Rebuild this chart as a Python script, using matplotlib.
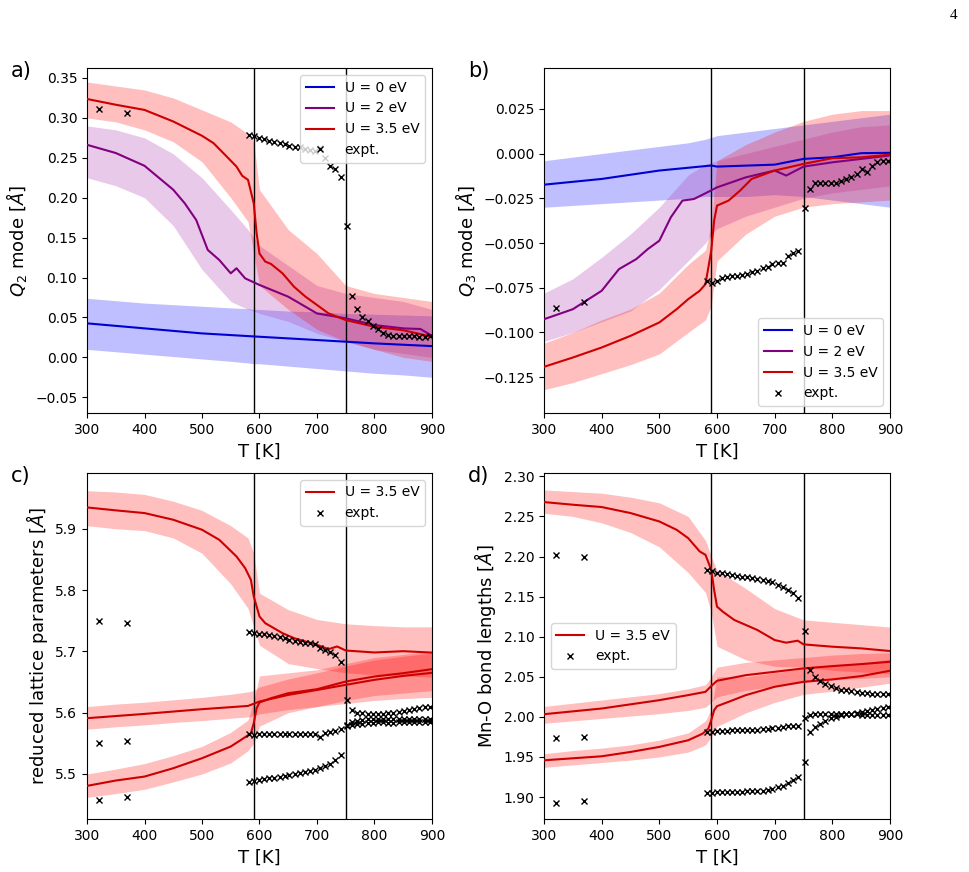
import numpy as np
import matplotlib
matplotlib.use("Agg")
import matplotlib.pyplot as plt

# ---- experimental points (shared temperature grid) ----
expt_T = [320, 370,
          582, 591, 600, 608, 617, 626, 635, 644, 652, 661, 670, 679, 688, 696, 705, 714, 723, 732, 741,
          752, 761, 770, 779, 788, 797, 806, 815, 824, 833, 842, 851, 860, 869, 878, 887, 896]

a_expt = [0.311, 0.306,
          0.279, 0.277, 0.275, 0.273, 0.271, 0.270, 0.268, 0.267, 0.265, 0.264, 0.263, 0.261, 0.260, 0.259,
          0.262, 0.250, 0.240, 0.236, 0.226,
          0.164, 0.077, 0.061, 0.050, 0.045, 0.039, 0.035, 0.031, 0.028, 0.027, 0.027, 0.027, 0.027, 0.027,
          0.026, 0.026, 0.027]
b_expt = [-0.0864, -0.0832,
          -0.0715, -0.0726, -0.0711, -0.0698, -0.0690, -0.0685, -0.0683, -0.0680, -0.0674, -0.0664, -0.0654,
          -0.0640, -0.0633, -0.0620, -0.0614, -0.0612, -0.0571, -0.0558, -0.0547,
          -0.0306, -0.0198, -0.0166, -0.0166, -0.0166, -0.0166, -0.0166, -0.0151, -0.0142, -0.0133, -0.0114,
          -0.0086, -0.0101, -0.0067, -0.0049, -0.0039, -0.0039]
c_expt_1 = [5.750, 5.747,
            5.731, 5.730, 5.729, 5.728, 5.727, 5.725, 5.723, 5.721, 5.719, 5.717, 5.715, 5.714, 5.713, 5.712,
            5.706, 5.702, 5.699, 5.694, 5.682,
            5.620, 5.604, 5.600, 5.599, 5.598, 5.598, 5.598, 5.598, 5.600, 5.600, 5.601, 5.602, 5.604, 5.606,
            5.607, 5.609, 5.610]
c_expt_2 = [5.551, 5.554,
            5.565, 5.564, 5.565, 5.565, 5.566, 5.566, 5.566, 5.566, 5.566, 5.566, 5.566, 5.566, 5.566, 5.566,
            5.561, 5.567, 5.569, 5.570, 5.574,
            5.580, 5.585, 5.587, 5.588, 5.589, 5.589, 5.590, 5.590, 5.589, 5.590, 5.590, 5.590, 5.590, 5.590,
            5.590, 5.590, 5.590]
c_expt_3 = [5.458, 5.463,
            5.487, 5.489, 5.491, 5.492, 5.493, 5.494, 5.495, 5.497, 5.498, 5.500, 5.501, 5.503, 5.505, 5.507,
            5.510, 5.513, 5.517, 5.522, 5.531,
            5.578, 5.580, 5.581, 5.582, 5.583, 5.583, 5.584, 5.584, 5.583, 5.583, 5.584, 5.584, 5.584, 5.584,
            5.584, 5.584, 5.584]
d_expt_1 = [2.2025, 2.200,
            2.183, 2.182, 2.180, 2.179, 2.178, 2.177, 2.176, 2.175, 2.174, 2.173, 2.172, 2.171, 2.170, 2.168,
            2.165, 2.162, 2.158, 2.155, 2.148,
            2.107, 2.058, 2.050, 2.045, 2.041, 2.038, 2.036, 2.034, 2.033, 2.032, 2.031, 2.030, 2.030, 2.029,
            2.029, 2.029, 2.029]
d_expt_2 = [1.973, 1.975,
            1.981, 1.981, 1.982, 1.982, 1.982, 1.983, 1.983, 1.983, 1.984, 1.984, 1.984, 1.985, 1.985, 1.986,
            1.986, 1.987, 1.988, 1.988, 1.989,
            1.999, 2.002, 2.003, 2.003, 2.003, 2.003, 2.003, 2.003, 2.003, 2.003, 2.003, 2.002, 2.002, 2.002,
            2.002, 2.002, 2.002]
d_expt_3 = [1.8925, 1.8946,
            1.905, 1.905, 1.906, 1.906, 1.906, 1.906, 1.906, 1.906, 1.907, 1.907, 1.907, 1.908, 1.909, 1.910,
            1.912, 1.914, 1.917, 1.921, 1.925,
            1.944, 1.981, 1.987, 1.991, 1.995, 1.998, 2.000, 2.002, 2.003, 2.004, 2.005, 2.006, 2.007, 2.008,
            2.010, 2.011, 2.012]

# ---- smoothed simulation curves ----
a_T_blue = [300, 400, 500, 600, 700, 800, 900]
a_blue = [0.0426, 0.0363, 0.030, 0.0258, 0.0217, 0.0175, 0.0141]
a_T_purple = [300, 350, 400, 450, 470, 490, 510, 530, 550, 560, 575, 600, 650, 700, 750, 800, 850, 880, 900]
a_purple = [0.2663, 0.256, 0.240, 0.210, 0.193, 0.172, 0.1346, 0.122, 0.1053, 0.1116, 0.099, 0.0907,
            0.076, 0.055, 0.0489, 0.0405, 0.0363, 0.0355, 0.027]
a_T_red = [300, 350, 400, 450, 500, 520, 540, 560, 570, 580, 590, 595, 600, 610, 620, 640, 660, 680,
           700, 720, 750, 800, 850, 900]
a_red = [0.3237, 0.3165, 0.310, 0.2955, 0.2776, 0.2684, 0.2538, 0.239, 0.2274, 0.2224, 0.193, 0.1555,
         0.130, 0.120, 0.117, 0.1053, 0.0885, 0.076, 0.0656, 0.0551, 0.0467, 0.0383, 0.034, 0.0258]

b_T_blue = [300, 400, 500, 590, 600, 700, 750, 800, 850, 900]
b_blue = [-0.0174, -0.0142, -0.0095, -0.0067, -0.0073, -0.0062, -0.0030, -0.0021, 0.0002, 0.0004]
b_T_purple = [300, 350, 400, 430, 460, 480, 500, 520, 540, 560, 580, 600, 650, 700, 720, 750, 800, 850, 900]
b_purple = [-0.0926, -0.087, -0.0767, -0.0646, -0.059, -0.0534, -0.0487, -0.0356, -0.0263, -0.0254,
            -0.0222, -0.0189, -0.0133, -0.0095, -0.0123, -0.0073, -0.0049, -0.003, -0.0011]
b_T_red = [300, 350, 400, 450, 500, 530, 550, 570, 580, 590, 595, 600, 620, 640, 660, 700, 750, 800, 850, 900]
b_red = [-0.1192, -0.114, -0.1084, -0.1019, -0.0944, -0.087, -0.0814, -0.0767, -0.073, -0.0543, -0.0375,
         -0.0291, -0.0263, -0.0207, -0.0142, -0.0095, -0.0058, -0.0026, -0.0021, -0.0006]

c_T_top = [300, 350, 400, 450, 500, 530, 560, 575, 585, 590, 600, 610, 620, 640, 660, 680, 700, 720,
           735, 750, 800, 850, 900]
c_top = [5.9348, 5.930, 5.9256, 5.9147, 5.8984, 5.882, 5.8548, 5.8358, 5.8168, 5.7896, 5.7569, 5.746,
         5.7406, 5.7297, 5.7216, 5.7161, 5.7107, 5.7036, 5.708, 5.7014, 5.6982, 5.7003, 5.698]
c_T_mid = [300, 400, 500, 580, 600, 650, 700, 750, 800, 850, 900]
c_mid = [5.591, 5.598, 5.6057, 5.611, 5.6182, 5.629, 5.637, 5.6454, 5.6536, 5.66, 5.665]
c_T_bot = [300, 350, 400, 450, 500, 550, 575, 585, 590, 595, 600, 620, 650, 700, 750, 800, 850, 900]
c_bot = [5.4806, 5.4893, 5.4958, 5.5094, 5.5257, 5.5448, 5.56, 5.5665, 5.5828, 5.6073, 5.6166, 5.6236,
         5.6318, 5.6383, 5.6508, 5.659, 5.6644, 5.671]

d_T_top = [300, 350, 400, 450, 500, 530, 550, 570, 580, 590, 595, 600, 610, 630, 650, 670, 700, 720,
           740, 750, 800, 850, 900]
d_top = [2.2679, 2.2646, 2.2617, 2.2542, 2.2437, 2.2333, 2.2229, 2.2063, 2.2021, 2.1833, 2.1583, 2.1375,
         2.1312, 2.1208, 2.1146, 2.1083, 2.0958, 2.0925, 2.095, 2.0904, 2.0875, 2.0854, 2.0821]
d_T_mid = [300, 400, 500, 550, 580, 590, 600, 650, 700, 750, 800, 850, 900]
d_mid = [2.0033, 2.0104, 2.0208, 2.0271, 2.0312, 2.0383, 2.045, 2.052, 2.0562, 2.0604, 2.0633, 2.0658, 2.0687]
d_T_bot = [300, 400, 450, 500, 550, 575, 585, 590, 595, 600, 620, 650, 700, 750, 800, 850, 900]
d_bot = [1.9458, 1.9508, 1.9562, 1.9625, 1.9708, 1.979, 1.9854, 1.9958, 2.0083, 2.0133, 2.0187, 2.0271,
         2.0375, 2.0437, 2.0467, 2.0508, 2.0575]

# ---- spread of the raw (unsmoothed) MD data, read as lower/upper envelopes ----
band_T = [300, 350, 400, 450, 500, 550, 580, 590, 600, 650, 700, 750, 800, 850, 900]

a_blue_lo = [0.010, 0.007, 0.004, 0.001, -0.002, -0.005, -0.007, -0.008, -0.008, -0.011, -0.014, -0.017, -0.020, -0.022, -0.025]
a_blue_hi = [0.074, 0.071, 0.068, 0.066, 0.064, 0.062, 0.061, 0.060, 0.060, 0.058, 0.057, 0.055, 0.054, 0.053, 0.052]
a_purple_lo = [0.225, 0.215, 0.200, 0.165, 0.110, 0.070, 0.060, 0.058, 0.055, 0.045, 0.030, 0.020, 0.010, 0.005, 0.000]
a_purple_hi = [0.290, 0.285, 0.275, 0.255, 0.225, 0.185, 0.160, 0.150, 0.140, 0.115, 0.090, 0.080, 0.075, 0.070, 0.060]
a_red_lo = [0.300, 0.295, 0.285, 0.270, 0.245, 0.200, 0.170, 0.130, 0.090, 0.060, 0.035, 0.020, 0.010, 0.000, -0.005]
a_red_hi = [0.345, 0.340, 0.335, 0.325, 0.310, 0.295, 0.280, 0.270, 0.210, 0.160, 0.130, 0.090, 0.080, 0.075, 0.070]

b_blue_lo = [-0.030, -0.029, -0.028, -0.027, -0.026, -0.025, -0.024, -0.024, -0.024, -0.024, -0.023, -0.024, -0.026, -0.028, -0.030]
b_blue_hi = [-0.004, -0.002, 0.000, 0.002, 0.004, 0.006, 0.008, 0.009, 0.010, 0.012, 0.014, 0.016, 0.018, 0.020, 0.022]
b_purple_lo = [-0.105, -0.100, -0.094, -0.088, -0.076, -0.060, -0.050, -0.045, -0.042, -0.035, -0.030, -0.025, -0.022, -0.020, -0.018]
b_purple_hi = [-0.078, -0.070, -0.058, -0.045, -0.030, -0.012, -0.006, -0.005, -0.004, 0.000, 0.004, 0.008, 0.012, 0.015, 0.016]
b_red_lo = [-0.132, -0.128, -0.123, -0.118, -0.112, -0.100, -0.093, -0.085, -0.060, -0.045, -0.035, -0.030, -0.028, -0.027, -0.026]
b_red_hi = [-0.106, -0.100, -0.093, -0.087, -0.078, -0.062, -0.054, -0.040, -0.004, 0.005, 0.012, 0.018, 0.022, 0.024, 0.024]

c_top_lo = [5.905, 5.900, 5.897, 5.885, 5.860, 5.810, 5.770, 5.740, 5.710, 5.680, 5.672, 5.665, 5.662, 5.660, 5.658]
c_top_hi = [5.962, 5.960, 5.956, 5.945, 5.930, 5.905, 5.885, 5.860, 5.795, 5.768, 5.752, 5.745, 5.742, 5.740, 5.740]
c_mid_lo = [5.573, 5.577, 5.580, 5.584, 5.587, 5.591, 5.593, 5.595, 5.598, 5.605, 5.610, 5.615, 5.620, 5.623, 5.625]
c_mid_hi = [5.610, 5.614, 5.617, 5.621, 5.625, 5.630, 5.634, 5.636, 5.642, 5.655, 5.665, 5.676, 5.686, 5.692, 5.697]
c_bot_lo = [5.462, 5.468, 5.475, 5.487, 5.500, 5.518, 5.538, 5.550, 5.578, 5.600, 5.610, 5.620, 5.628, 5.632, 5.636]
c_bot_hi = [5.500, 5.508, 5.517, 5.530, 5.545, 5.568, 5.588, 5.620, 5.660, 5.665, 5.670, 5.680, 5.690, 5.695, 5.700]

d_top_lo = [2.254, 2.250, 2.242, 2.230, 2.212, 2.180, 2.155, 2.130, 2.088, 2.071, 2.063, 2.062, 2.058, 2.056, 2.054]
d_top_hi = [2.283, 2.281, 2.279, 2.274, 2.267, 2.250, 2.220, 2.200, 2.183, 2.160, 2.135, 2.121, 2.118, 2.115, 2.112]
d_mid_lo = [1.992, 1.995, 1.998, 2.001, 2.004, 2.008, 2.012, 2.018, 2.025, 2.033, 2.038, 2.043, 2.046, 2.048, 2.050]
d_mid_hi = [2.013, 2.017, 2.021, 2.025, 2.029, 2.035, 2.040, 2.050, 2.062, 2.068, 2.071, 2.074, 2.077, 2.079, 2.080]
d_bot_lo = [1.937, 1.940, 1.943, 1.946, 1.950, 1.956, 1.965, 1.975, 1.988, 2.005, 2.018, 2.028, 2.032, 2.037, 2.042]
d_bot_hi = [1.954, 1.958, 1.961, 1.965, 1.971, 1.980, 1.995, 2.010, 2.050, 2.050, 2.055, 2.060, 2.064, 2.067, 2.072]

transitions = [590, 750]

c_blue, c_purple, c_red = '#0000d0', '#800080', '#cc0000'
f_blue, f_purple, f_red = 'blue', '#b040b0', 'red'

fig = plt.figure(figsize=(9.69, 8.72), dpi=100)
ax_a = fig.add_axes([0.0898, 0.5264, 0.3560, 0.3956])
ax_b = fig.add_axes([0.5614, 0.5264, 0.3571, 0.3956])
ax_c = fig.add_axes([0.0898, 0.0608, 0.3560, 0.3968])
ax_d = fig.add_axes([0.5614, 0.0608, 0.3571, 0.3968])


def band(ax, lo, hi, col, alpha):
    ax.fill_between(band_T, lo, hi, color=col, alpha=alpha, lw=0, zorder=1)


# a) Q2
band(ax_a, a_blue_lo, a_blue_hi, f_blue, 0.25)
band(ax_a, a_purple_lo, a_purple_hi, f_purple, 0.28)
band(ax_a, a_red_lo, a_red_hi, f_red, 0.25)
ax_a.plot(a_T_blue, a_blue, color=c_blue, lw=1.5, label='U = 0 eV', zorder=3)
ax_a.plot(a_T_purple, a_purple, color=c_purple, lw=1.5, label='U = 2 eV', zorder=3)
ax_a.plot(a_T_red, a_red, color=c_red, lw=1.5, label='U = 3.5 eV', zorder=3)
ax_a.plot(expt_T, a_expt, 'kx', ms=5, mew=1, ls='none', label='expt.', zorder=4)
ax_a.set_ylim(-0.0697, 0.3625)
ax_a.set_yticks(np.arange(-0.05, 0.351, 0.05))
ax_a.set_ylabel(r'$Q_2$ mode [$Å$]', fontsize=13)
ax_a.legend(loc='upper right', fontsize=10)

# b) Q3
band(ax_b, b_blue_lo, b_blue_hi, f_blue, 0.25)
band(ax_b, b_purple_lo, b_purple_hi, f_purple, 0.28)
band(ax_b, b_red_lo, b_red_hi, f_red, 0.25)
ax_b.plot(b_T_blue, b_blue, color=c_blue, lw=1.5, label='U = 0 eV', zorder=3)
ax_b.plot(b_T_purple, b_purple, color=c_purple, lw=1.5, label='U = 2 eV', zorder=3)
ax_b.plot(b_T_red, b_red, color=c_red, lw=1.5, label='U = 3.5 eV', zorder=3)
ax_b.plot(expt_T, b_expt, 'kx', ms=5, mew=1, ls='none', label='expt.', zorder=4)
ax_b.set_ylim(-0.145, 0.0478)
ax_b.set_yticks(np.arange(-0.125, 0.026, 0.025))
ax_b.set_ylabel(r'$Q_3$ mode [$Å$]', fontsize=13)
ax_b.legend(loc='lower right', fontsize=10)

# c) lattice parameters
band(ax_c, c_top_lo, c_top_hi, f_red, 0.25)
band(ax_c, c_mid_lo, c_mid_hi, f_red, 0.25)
band(ax_c, c_bot_lo, c_bot_hi, f_red, 0.25)
ax_c.plot(c_T_top, c_top, color=c_red, lw=1.5, label='U = 3.5 eV', zorder=3)
ax_c.plot(c_T_mid, c_mid, color=c_red, lw=1.5, zorder=3)
ax_c.plot(c_T_bot, c_bot, color=c_red, lw=1.5, zorder=3)
ax_c.plot(expt_T, c_expt_1, 'kx', ms=5, mew=1, ls='none', label='expt.', zorder=4)
ax_c.plot(expt_T, c_expt_2, 'kx', ms=5, mew=1, ls='none', zorder=4)
ax_c.plot(expt_T, c_expt_3, 'kx', ms=5, mew=1, ls='none', zorder=4)
ax_c.set_ylim(5.4266, 5.991)
ax_c.set_ylabel(r'reduced lattice parameters [$Å$]', fontsize=13)
ax_c.legend(loc='upper right', fontsize=10)

# d) Mn-O bonds
band(ax_d, d_top_lo, d_top_hi, f_red, 0.25)
band(ax_d, d_mid_lo, d_mid_hi, f_red, 0.25)
band(ax_d, d_bot_lo, d_bot_hi, f_red, 0.25)
ax_d.plot(d_T_top, d_top, color=c_red, lw=1.5, label='U = 3.5 eV', zorder=3)
ax_d.plot(d_T_mid, d_mid, color=c_red, lw=1.5, zorder=3)
ax_d.plot(d_T_bot, d_bot, color=c_red, lw=1.5, zorder=3)
ax_d.plot(expt_T, d_expt_1, 'kx', ms=5, mew=1, ls='none', label='expt.', zorder=4)
ax_d.plot(expt_T, d_expt_2, 'kx', ms=5, mew=1, ls='none', zorder=4)
ax_d.plot(expt_T, d_expt_3, 'kx', ms=5, mew=1, ls='none', zorder=4)
ax_d.set_ylim(1.8726, 2.3042)
ax_d.set_yticks(np.arange(1.90, 2.301, 0.05))
ax_d.set_ylabel('Mn-O bond lengths [$Å$]', fontsize=13)
ax_d.legend(loc='center left', fontsize=10)

for ax, lab in zip([ax_a, ax_b, ax_c, ax_d], ['a)', 'b)', 'c)', 'd)']):
    for t in transitions:
        ax.axvline(t, color='k', lw=1, zorder=2)
    ax.set_xlim(300, 900)
    ax.set_xticks(np.arange(300, 901, 100))
    ax.set_xlabel('T [K]', fontsize=13)
    ax.tick_params(labelsize=10)
    ax.text(-0.22, 0.99, lab, transform=ax.transAxes, fontsize=15, va='center', ha='left')

fig.text(0.988, 0.99, '4', fontsize=11, family='Liberation Serif', ha='right', va='top')

fig.savefig('out.png', dpi=100)
